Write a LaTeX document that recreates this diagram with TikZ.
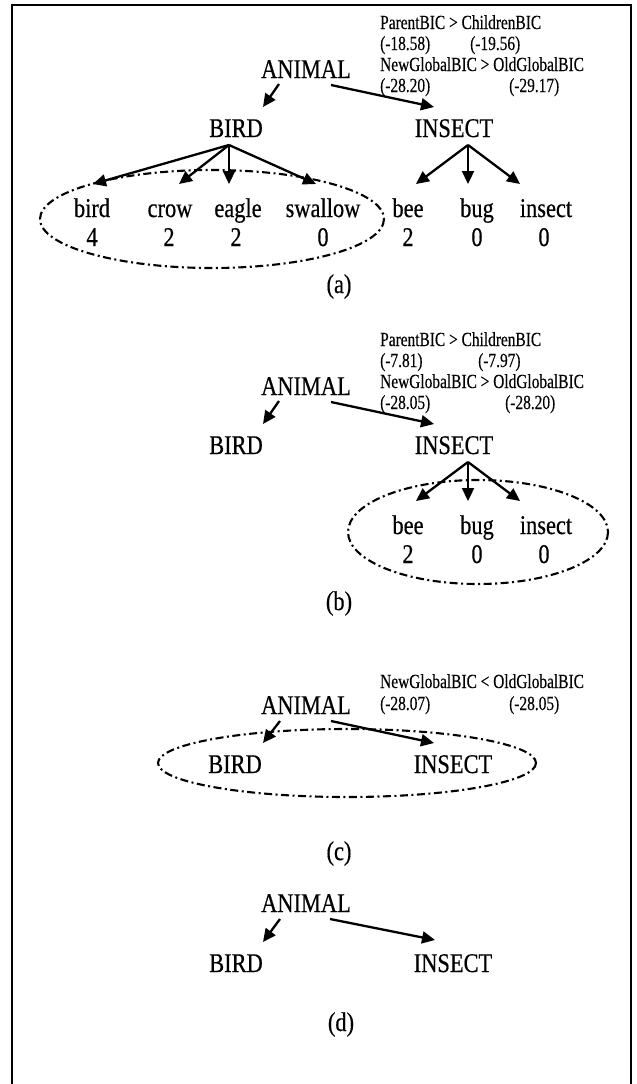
\documentclass[tikz,border=0pt]{standalone}
\usepackage{fontspec}
\setmainfont{Liberation Serif}
\newfontfamily\condbig[FakeStretch=0.83,FakeBold=0.5]{Liberation Serif}
\newfontfamily\condsmall[FakeStretch=0.77,FakeBold=0.3]{Liberation Serif}
\usetikzlibrary{arrows.meta,calc}
\begin{document}
\begin{tikzpicture}[x=1pt,y=-1pt,
  bigtxt/.style={font=\condbig\fontsize{27}{30}\selectfont, inner sep=0pt, anchor=base},
  smalltxt/.style={font=\condsmall\fontsize{20}{23}\selectfont, inner sep=0pt, anchor=base west},
  arr/.style={line width=2.3pt, -{Triangle[length=13pt,width=12pt]}},
  dd/.style={line width=2.1pt, dash pattern=on 8pt off 3.5pt on 2pt off 3.5pt},
  frameline/.style={line width=2.2pt}]
\useasboundingbox (0,0) rectangle (637,1084);
\draw[frameline] (12,1100) -- (12,5) -- (631,5) -- (631,1100);

% ---------- panel (a)
\node[smalltxt] (pa1) at (380,29) {ParentBIC > ChildrenBIC};
\node[smalltxt] (pa2) at (380,50) {(-18.58)};
\node[smalltxt] (pa3) at (470,50) {(-19.56)};
\node[smalltxt] (pa4) at (380,71) {NewGlobalBIC > OldGlobalBIC};
\node[smalltxt] (pa5) at (380,92) {(-28.20)};
\node[smalltxt] (pa6) at (509,92) {(-29.17)};
\node[bigtxt] (Aa) at (306,78) {ANIMAL};
\node[bigtxt] (Ba) at (236,137) {BIRD};
\node[bigtxt] (Ia) at (454,137) {INSECT};
\node[bigtxt] (la1) at (92,217) {bird};
\node[bigtxt] (la2) at (170,217) {crow};
\node[bigtxt] (la3) at (238,217) {eagle};
\node[bigtxt] (la4) at (323,217) {swallow};
\node[bigtxt] (la5) at (408,217) {bee};
\node[bigtxt] (la6) at (477,217) {bug};
\node[bigtxt] (la7) at (546,217) {insect};
\node[bigtxt] (ca1) at (92,246) {4};
\node[bigtxt] (ca2) at (169,246) {2};
\node[bigtxt] (ca3) at (236,246) {2};
\node[bigtxt] (ca4) at (323,246) {0};
\node[bigtxt] (ca5) at (408,246) {2};
\node[bigtxt] (ca6) at (477,246) {0};
\node[bigtxt] (ca7) at (544,246) {0};
\node[bigtxt] (taga) at (339,293) {(a)};
\draw[arr] ([shift={(-27,6)}]Aa.base) -- ([shift={(27,-30)}]Ba.base);
\draw[arr] ([shift={(25,7)}]Aa.base) -- ([shift={(-20,-30)}]Ia.base);
\draw[arr] ([shift={(-7,8)}]Ba.base) -- ([shift={(1,-33)}]la1.base);
\draw[arr] ([shift={(-7,8)}]Ba.base) -- ([shift={(9,-33)}]la2.base);
\draw[arr] ([shift={(-7,8)}]Ba.base) -- ([shift={(-9,-33)}]la3.base);
\draw[arr] ([shift={(-7,8)}]Ba.base) -- ([shift={(-7,-33)}]la4.base);
\draw[arr] ([shift={(14,8)}]Ia.base) -- ([shift={(8,-33)}]la5.base);
\draw[arr] ([shift={(14,8)}]Ia.base) -- ([shift={(-9,-33)}]la6.base);
\draw[arr] ([shift={(14,8)}]Ia.base) -- ([shift={(-26,-33)}]la7.base);
\draw[dd] (212,219) ellipse [x radius=172, y radius=49];

% ---------- panel (b)
\begin{scope}[shift={(0,317)}]
\node[smalltxt] (pb1) at (380,29) {ParentBIC > ChildrenBIC};
\node[smalltxt] (pb2) at (380,50) {(-7.81)};
\node[smalltxt] (pb3) at (478,50) {(-7.97)};
\node[smalltxt] (pb4) at (380,71) {NewGlobalBIC > OldGlobalBIC};
\node[smalltxt] (pb5) at (380,92) {(-28.05)};
\node[smalltxt] (pb6) at (505,92) {(-28.20)};
\node[bigtxt] (Ab) at (306,78) {ANIMAL};
\node[bigtxt] (Bb) at (236,137) {BIRD};
\node[bigtxt] (Ib) at (454,137) {INSECT};
\node[bigtxt] (lb5) at (408,217) {bee};
\node[bigtxt] (lb6) at (477,217) {bug};
\node[bigtxt] (lb7) at (546,217) {insect};
\node[bigtxt] (cb5) at (408,246) {2};
\node[bigtxt] (cb6) at (477,246) {0};
\node[bigtxt] (cb7) at (544,246) {0};
\node[bigtxt] (tagb) at (339,293) {(b)};
\draw[arr] ([shift={(-27,6)}]Ab.base) -- ([shift={(27,-30)}]Bb.base);
\draw[arr] ([shift={(25,7)}]Ab.base) -- ([shift={(-20,-30)}]Ib.base);
\draw[arr] ([shift={(14,8)}]Ib.base) -- ([shift={(8,-33)}]lb5.base);
\draw[arr] ([shift={(14,8)}]Ib.base) -- ([shift={(-9,-33)}]lb6.base);
\draw[arr] ([shift={(14,8)}]Ib.base) -- ([shift={(-26,-33)}]lb7.base);
\draw[dd] (478,215) ellipse [x radius=130, y radius=52];
\end{scope}

% ---------- panel (c)
\node[smalltxt] (pc4) at (380,688) {NewGlobalBIC < OldGlobalBIC};
\node[smalltxt] (pc5) at (380,710) {(-28.07)};
\node[smalltxt] (pc6) at (509,710) {(-28.05)};
\node[bigtxt] (Ac) at (306,714) {ANIMAL};
\node[bigtxt] (Bc) at (235,773) {BIRD};
\node[bigtxt] (Ic) at (453,773) {INSECT};
\node[bigtxt] (tagc) at (339,860) {(c)};
\draw[arr] ([shift={(-26,7)}]Ac.base) -- ([shift={(28,-30)}]Bc.base);
\draw[arr] ([shift={(25,7)}]Ac.base) -- ([shift={(-19,-30)}]Ic.base);
\draw[dd] (347,763) ellipse [x radius=189, y radius=34];

% ---------- panel (d)
\node[bigtxt] (Ad) at (306,912) {ANIMAL};
\node[bigtxt] (Bd) at (236,972) {BIRD};
\node[bigtxt] (Id) at (453,972) {INSECT};
\node[bigtxt] (tagd) at (341,1031) {(d)};
\draw[arr] ([shift={(-26,7)}]Ad.base) -- ([shift={(27,-30)}]Bd.base);
\draw[arr] ([shift={(24,7)}]Ad.base) -- ([shift={(-18,-32)}]Id.base);
\end{tikzpicture}
\end{document}
